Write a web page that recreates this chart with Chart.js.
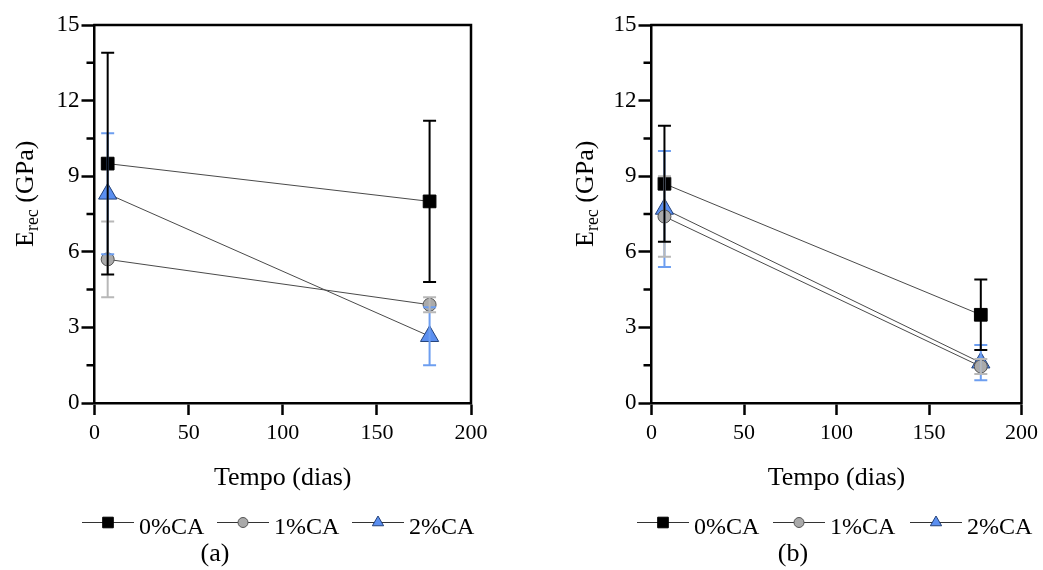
<!DOCTYPE html>
<html><head><meta charset="utf-8">
<script src="https://cdn.jsdelivr.net/npm/chart.js@4/dist/chart.umd.min.js"></script>
<style>
html,body{margin:0;padding:0;background:#fff;}
#wrap{position:relative;width:1043px;height:570px;overflow:hidden;}
canvas{position:absolute;top:0;}
</style></head><body>
<div id="wrap">
<canvas id="ca" style="left:0;width:520px;height:570px" width="520" height="570"></canvas>
<canvas id="cb" style="left:520px;width:523px;height:570px" width="523" height="570"></canvas>
</div>
<script>
// ---- data ----
const days = [7, 178];
const seriesNames = ['0%CA', '1%CA', '2%CA'];
const xTicks = [0, 50, 100, 150, 200];
const yTicks = [0, 3, 6, 9, 12, 15];
// panel (a)
const a0 = [9.5, 8.0],  a0Err = [4.4, 3.2];
const a1 = [5.7, 3.9],  a1Err = [1.5, 0.3];
const a2 = [8.3, 2.65], a2Err = [2.4, 1.15];
// panel (b)
const b0 = [8.7, 3.5],  b0Err = [2.3, 1.4];
const b1 = [7.4, 1.45], b1Err = [1.6, 0.3];
const b2 = [7.7, 1.6],  b2Err = [2.3, 0.7];

const SERIF = '"Liberation Serif","Times New Roman",serif';
const styles = [
  {pointStyle:'rect', radius:9, bg:'#000000', border:'#000000', bw:1, err:'#000000', legR:7.5},
  {pointStyle:'circle', radius:6.5, bg:'#aaaaaa', border:'#555555', bw:1, err:'#b8b8b8', legR:5},
  {pointStyle:'triangle', radius:10.5, bg:'#5b8ff0', border:'#23427a', bw:1, err:'#6d9ef0', legR:6.5}
];

function makeChart(id, vals, errs, cfg) {
  const ctx = document.getElementById(id);
  const datasets = vals.map((v, k) => ({
    label: seriesNames[k],
    data: days.map((d, i) => ({x: d, y: v[i]})),
    borderColor: '#4a4a4a',
    borderWidth: 1,
    pointStyle: styles[k].pointStyle,
    pointRadius: styles[k].radius,
    pointHoverRadius: styles[k].radius,
    pointBackgroundColor: styles[k].bg,
    pointBorderColor: styles[k].border,
    pointBorderWidth: styles[k].bw,
    showLine: true,
    fill: false,
    clip: false
  }));

  const decor = {
    id: 'decor',
    beforeDraw(chart) {
      const c = chart.ctx;
      c.save(); c.fillStyle = '#fff'; c.fillRect(0, 0, chart.width, chart.height); c.restore();
    },
    afterDatasetsDraw(chart) {
      const c = chart.ctx, xs = chart.scales.x, ys = chart.scales.y;
      c.save();
      for (let k = vals.length - 1; k >= 0; k--) {
        c.strokeStyle = styles[k].err; c.lineWidth = 2;
        days.forEach((d, i) => {
          const x = xs.getPixelForValue(d);
          const yt = ys.getPixelForValue(vals[k][i] + errs[k][i]);
          const yb = ys.getPixelForValue(vals[k][i] - errs[k][i]);
          c.beginPath();
          c.moveTo(x, yt); c.lineTo(x, yb);
          c.moveTo(x - 6.5, yt); c.lineTo(x + 6.5, yt);
          c.moveTo(x - 6.5, yb); c.lineTo(x + 6.5, yb);
          c.stroke();
        });
      }
      c.restore();
    },
    afterDraw(chart) {
      const c = chart.ctx, a = chart.chartArea, ys = chart.scales.y;
      c.save();
      // frame top & right
      c.strokeStyle = '#000'; c.lineWidth = 2.5;
      c.beginPath();
      c.moveTo(a.left - 1.25, a.top); c.lineTo(a.right, a.top); c.lineTo(a.right, a.bottom + 1.25);
      c.stroke();
      // minor y ticks
      const t = ys.ticks;
      c.beginPath();
      for (let i = 0; i < t.length - 1; i++) {
        const y = ys.getPixelForValue((t[i].value + t[i + 1].value) / 2);
        c.moveTo(a.left - 8, y); c.lineTo(a.left, y);
      }
      c.stroke();
      c.fillStyle = '#000';
      // y title
      c.save();
      c.translate(cfg.yTitleX, cfg.yTitleY);
      c.rotate(-Math.PI / 2);
      c.textAlign = 'left'; c.textBaseline = 'alphabetic';
      c.font = '26px ' + SERIF;
      c.fillText('E', 0, 0);
      let w = c.measureText('E').width;
      c.font = '18px ' + SERIF;
      c.fillText('rec', w, 5);
      w += c.measureText('rec').width;
      c.font = '26px ' + SERIF;
      c.fillText(' (GPa)', w, 0);
      c.restore();
      // x title
      c.font = '26px ' + SERIF; c.textAlign = 'center'; c.textBaseline = 'alphabetic';
      c.fillText('Tempo (dias)', (a.left + a.right) / 2, 485);
      // legend
      cfg.legendX.forEach((lx, k) => {
        c.strokeStyle = '#333'; c.lineWidth = 1;
        c.beginPath(); c.moveTo(lx, 522.5); c.lineTo(lx + 52, 522.5); c.stroke();
        c.fillStyle = styles[k].bg; c.strokeStyle = styles[k].border; c.lineWidth = 1;
        Chart.helpers.drawPoint(c, {pointStyle: styles[k].pointStyle, radius: styles[k].legR, borderWidth: 1}, lx + 26, 522.5);
        c.fillStyle = '#000';
        c.font = '24px ' + SERIF; c.textAlign = 'left';
        c.fillText(seriesNames[k], lx + 57, 534);
      });
      // caption
      c.font = '26px ' + SERIF; c.textAlign = 'center';
      c.fillText(cfg.caption, cfg.captionX, 561);
      c.restore();
    }
  };

  return new Chart(ctx, {
    type: 'scatter',
    data: {datasets},
    plugins: [decor],
    options: {
      responsive: false,
      animation: false,
      devicePixelRatio: 1,
      layout: {padding: {left: 0, top: 25, right: cfg.rightPad, bottom: 0}},
      plugins: {legend: {display: false}, tooltip: {enabled: false}},
      scales: {
        x: {
          type: 'linear', min: 0, max: 200,
          afterBuildTicks(s) { s.ticks = xTicks.map(v => ({value: v})); },
          afterFit(s) { s.height = 167; },
          border: {display: true, color: '#000', width: 2.5},
          grid: {drawOnChartArea: false, drawTicks: true, tickLength: 12, tickColor: '#000', tickWidth: 2.5},
          ticks: {color: '#000', font: {family: SERIF, size: 22}, padding: 5, maxRotation: 0}
        },
        y: {
          type: 'linear', min: 0, max: 15,
          afterBuildTicks(s) { s.ticks = yTicks.map(v => ({value: v})); },
          afterFit(s) { s.width = cfg.plotLeft; },
          border: {display: true, color: '#000', width: 2.5},
          grid: {drawOnChartArea: false, drawTicks: true, tickLength: 13, tickColor: '#000', tickWidth: 2.5},
          ticks: {color: '#000', font: {family: SERIF, size: 23}, padding: 2}
        }
      }
    }
  });
}

makeChart('ca', [a0, a1, a2], [a0Err, a1Err, a2Err], {
  plotLeft: 94.5, rightPad: 49, yTitleX: 33, yTitleY: 247,
  legendX: [82, 217, 352], caption: '(a)', captionX: 215
});
makeChart('cb', [b0, b1, b2], [b0Err, b1Err, b2Err], {
  plotLeft: 131.5, rightPad: 15.5, yTitleX: 73, yTitleY: 247,
  legendX: [117, 253, 390], caption: '(b)', captionX: 273
});
</script>
</body></html>
